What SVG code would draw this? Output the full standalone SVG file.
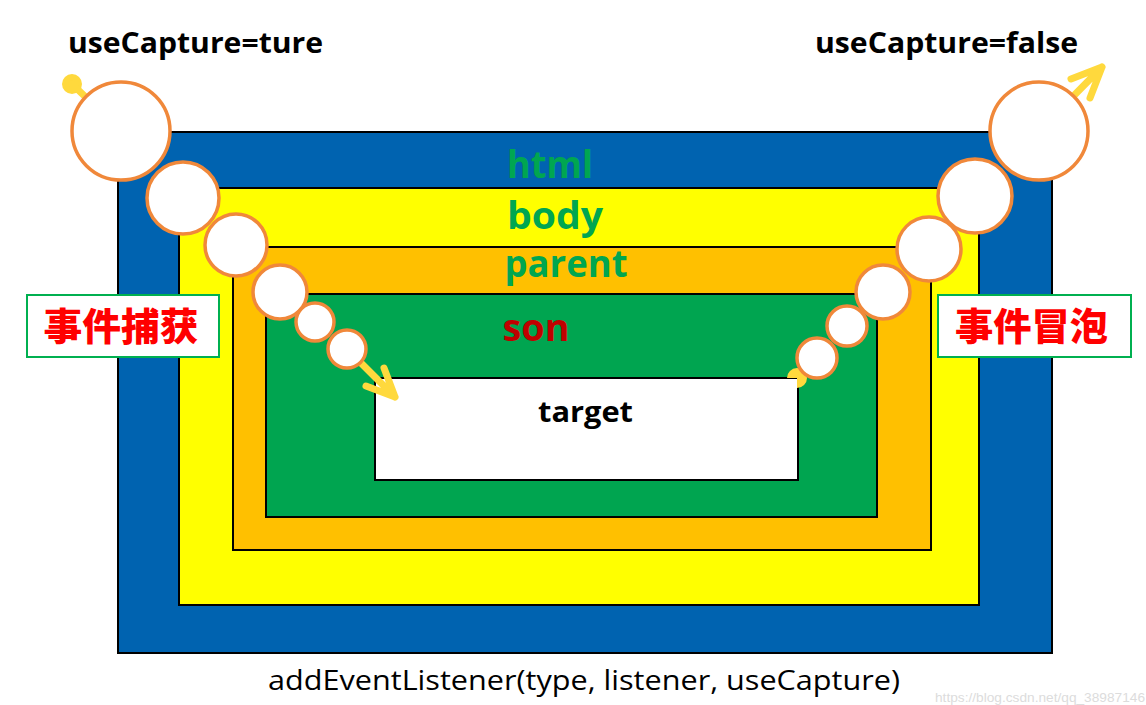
<svg xmlns="http://www.w3.org/2000/svg" width="1146" height="705" viewBox="0 0 1146 705">
<style>
.box{stroke:#000;stroke-width:2}
.lbl{font-family:"Open Sans","Liberation Sans",sans-serif;font-weight:bold;text-anchor:middle}
.big{font-size:37px;fill:#00A651}
.cn{font-family:"Noto Sans CJK SC","Noto Sans CJK JP",sans-serif;font-weight:900;font-size:38px;fill:#FF0000;text-anchor:middle}
.tag{fill:#fff;stroke:#00B050;stroke-width:2}
.ball{fill:#fff;stroke:#F0883A;stroke-width:3.5}
.flow{fill:none;stroke:#FFD93D;stroke-width:7;stroke-linecap:round;stroke-linejoin:round}
</style>
<rect width="1146" height="705" fill="#fff"/>
<g id="html"><rect class="box" x="118" y="132" width="934" height="521" fill="#0063B0"/>
<text class="lbl big" x="550" y="178" textLength="86" lengthAdjust="spacingAndGlyphs">html</text></g>
<g id="body"><rect class="box" x="179" y="188" width="800" height="417" fill="#FFFF00"/>
<text class="lbl big" x="555" y="229" font-size="35" textLength="96" lengthAdjust="spacingAndGlyphs">body</text></g>
<g id="parent"><rect class="box" x="233" y="247" width="698" height="303" fill="#FFC000"/>
<text class="lbl big" x="566" y="277" font-size="35" textLength="123" lengthAdjust="spacingAndGlyphs">parent</text></g>
<g id="son"><rect class="box" x="266" y="294" width="611" height="223" fill="#00A550"/>
<text class="lbl" x="536" y="341" font-size="38" fill="#C00000" textLength="67" lengthAdjust="spacingAndGlyphs">son</text></g>
<g id="target"><rect class="box" x="375" y="378" width="423" height="102" fill="#fff"/>
<text class="lbl" x="585.5" y="422" font-size="29" fill="#000" textLength="95" lengthAdjust="spacingAndGlyphs">target</text></g>
<g id="connectors">
<circle cx="72" cy="84" r="10" fill="#FFD93D"/>
<path class="flow" d="M72,84 L122,132"/>
<path class="flow" d="M347,349 L395,397 M384,368 L395,397 L366,386"/>
<path d="M787,378 A10,10 0 1 1 797,388 L797,378 Z" fill="#FFD93D"/>
<path class="flow" d="M1039,131 L1102,67 M1071,79 L1102,67 L1090,98"/>
</g>
<g id="capture-path">
<circle class="ball" cx="121" cy="131" r="49"/>
<circle class="ball" cx="183" cy="198" r="36"/>
<circle class="ball" cx="236" cy="245" r="31"/>
<circle class="ball" cx="280" cy="292" r="27"/>
<circle class="ball" cx="315" cy="322" r="19"/>
<circle class="ball" cx="347" cy="349" r="19"/>
</g>
<g id="bubble-path">
<circle class="ball" cx="1039" cy="131" r="49"/>
<circle class="ball" cx="975" cy="196" r="37"/>
<circle class="ball" cx="929" cy="249" r="32"/>
<circle class="ball" cx="883" cy="292" r="27"/>
<circle class="ball" cx="847" cy="326" r="20"/>
<circle class="ball" cx="817" cy="358" r="20"/>
</g>
<g id="label-capture"><rect class="tag" x="27" y="295" width="192" height="62"/>
<text class="cn" x="121" y="340" textLength="155" lengthAdjust="spacingAndGlyphs">事件捕获</text></g>
<g id="label-bubble"><rect class="tag" x="938" y="295" width="193" height="62"/>
<text class="cn" x="1031.5" y="340" textLength="153" lengthAdjust="spacingAndGlyphs">事件冒泡</text></g>
<g id="title-true"><text class="lbl" x="195.5" y="53" font-size="28" fill="#000" textLength="255" lengthAdjust="spacingAndGlyphs">useCapture=ture</text></g>
<g id="title-false"><text class="lbl" x="946.5" y="53" font-size="28" fill="#000" textLength="263" lengthAdjust="spacingAndGlyphs">useCapture=false</text></g>
<g id="caption"><text x="584" y="690" font-family="'Open Sans','Liberation Sans',sans-serif" font-size="28" fill="#000" text-anchor="middle" textLength="632" lengthAdjust="spacingAndGlyphs">addEventListener(type, listener, useCapture)</text></g>
<text x="1145" y="702" font-family="'Liberation Sans',sans-serif" font-size="13" fill="#dcdcdc" text-anchor="end" textLength="210" lengthAdjust="spacingAndGlyphs">https://blog.csdn.net/qq_38987146</text>
</svg>
